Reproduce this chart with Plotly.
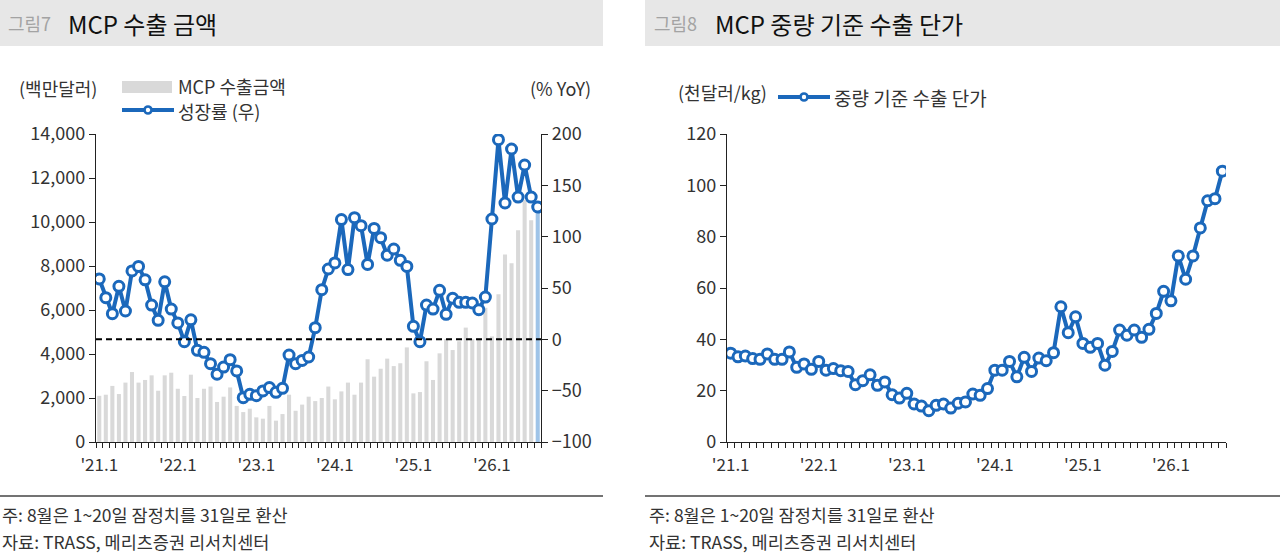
import plotly.graph_objects as go

# 월 라벨 ('21.1 ~ '26.8)
months = [f"'{y}.{m}" for y in range(21, 27) for m in range(1, 13)][:68]

# MCP 수출금액 (백만달러)
export_amt = [2100, 2150, 2550, 2180, 2700, 3180, 2700, 2820, 3030, 2330, 3030, 3150,
              2420, 2090, 3060, 2000, 2420, 2520, 1820, 2060, 2480, 1640, 1360, 1515,
              1120, 1060, 1640, 970, 1270, 2150, 1420, 1700, 2060, 1860, 2000, 2520,
              1940, 2300, 2700, 2150, 2700, 3760, 2970, 3330, 3790, 3450, 3580, 4300,
              2210, 2270, 3670, 2820, 4030, 4670, 4180, 4580, 5200, 4670, 4700, 6100,
              4800, 6720, 8520, 8130, 9620, 11000, 10080, 10700]

# 성장률 (% YoY, 우축)
growth = [58.8, 40.6, 25.0, 51.6, 27.6, 66.6, 71.0, 58.0, 33.4, 18.5, 56.0, 29.5,
          16.0, -2.3, 19.0, -10.7, -12.7, -23.7, -34.0, -27.0, -19.8, -30.8, -56.8, -53.6,
          -54.9, -50.3, -47.0, -51.6, -47.7, -15.3, -23.7, -20.5, -17.2, 11.4, 48.4, 68.5,
          74.4, 116.6, 67.9, 118.5, 110.7, 73.0, 108.0, 99.0, 82.0, 88.0, 77.0, 71.0,
          12.7, -2.3, 33.4, 29.5, 47.7, 24.4, 40.0, 36.0, 36.0, 35.4, 28.9, 41.2,
          117.2, 194.5, 132.8, 185.4, 138.6, 169.8, 138.6, 128.9]

# 중량 기준 수출 단가 (천달러/kg)
unit_price = [34.6, 33.2, 33.5, 32.5, 32.2, 34.3, 32.2, 32.2, 35.1, 29.1, 30.4, 28.3,
              31.4, 28.0, 28.6, 27.8, 27.5, 22.3, 23.9, 26.2, 22.1, 23.4, 18.4, 17.1,
              19.0, 14.8, 14.0, 12.2, 14.3, 14.8, 13.2, 15.1, 15.6, 18.7, 18.2, 20.8,
              28.0, 28.0, 31.4, 25.4, 33.0, 27.5, 32.7, 31.7, 34.8, 52.7, 42.6, 48.8,
              38.4, 36.9, 38.4, 29.9, 35.3, 43.6, 41.6, 43.6, 40.8, 43.9, 50.1, 58.7,
              55.0, 72.5, 63.4, 72.5, 83.4, 94.0, 94.8, 105.5]

x = list(range(len(months)))
tick_idx = [i for i, m in enumerate(months) if m.endswith('.1')]
tick_txt = [months[i] for i in tick_idx]

W, H = 1280, 555
FONT = "Noto Sans CJK KR"
BLUE = '#1b68bb'
GREY_BAR = '#d9d9d9'
HILITE = '#9fc4e8'
TXT = '#333333'


def px(v):
    return v / W


def py(v):
    return 1 - v / H


fig = go.Figure()

bar_colors = [GREY_BAR] * (len(x) - 1) + [HILITE]
fig.add_trace(go.Bar(x=x, y=export_amt, marker=dict(color=bar_colors, line_width=0),
                     width=0.62, name='MCP 수출금액', showlegend=False,
                     xaxis='x', yaxis='y'))

line_style = dict(color=BLUE, width=4)
marker_style = dict(symbol='circle', size=10, color='white', line=dict(color=BLUE, width=3))

fig.add_trace(go.Scatter(x=x, y=growth, mode='lines+markers', line=line_style,
                         marker=marker_style, name='성장률 (우)', showlegend=False,
                         xaxis='x', yaxis='y2'))

fig.add_trace(go.Scatter(x=x, y=unit_price, mode='lines+markers', line=line_style,
                         marker=marker_style, name='중량 기준 수출 단가', showlegend=False,
                         xaxis='x2', yaxis='y3'))

xfont = dict(family=FONT, size=17, color=TXT)
yfont = dict(family=FONT, size=18, color=TXT)
minor = dict(tickmode='linear', tick0=-0.5, dtick=1, ticks='outside', ticklen=5,
             tickcolor='#222', tickwidth=1)
xcommon = dict(range=[-0.5, len(x) - 0.5], tickmode='array', tickvals=tick_idx,
               ticktext=tick_txt, ticks='', showgrid=False, zeroline=False,
               showline=True, linecolor='#222', linewidth=1.2, tickfont=xfont,
               minor=minor, fixedrange=True, automargin=False, ticklabelstandoff=7)
ycommon = dict(showgrid=False, zeroline=False, showline=True, linecolor='#222',
               linewidth=1.2, ticks='outside', ticklen=6, tickcolor='#222',
               tickfont=yfont, fixedrange=True, automargin=False)

ydom = [py(442), py(134)]

fig.update_layout(
    width=W, height=H, margin=dict(l=0, r=0, t=0, b=0, pad=0), autosize=False,
    paper_bgcolor='white', plot_bgcolor='white',
    font=dict(family=FONT, color=TXT),
    showlegend=False,
    xaxis=dict(domain=[px(96), px(541)], anchor='y', **xcommon),
    yaxis=dict(domain=ydom, anchor='x', range=[0, 14000], tickvals=list(range(0, 14001, 2000)),
               tickformat=',d', **ycommon),
    yaxis2=dict(overlaying='y', side='right', anchor='x', range=[-100, 200],
                tickvals=list(range(-100, 201, 50)), **ycommon),
    xaxis2=dict(domain=[px(727), px(1226)], anchor='y3', **xcommon),
    yaxis3=dict(domain=ydom, anchor='x2', range=[0, 120], tickvals=list(range(0, 121, 20)),
                **ycommon),
)

# 0% 기준선 (우축)
fig.add_shape(type='line', xref='x domain', yref='y2', x0=0, x1=1, y0=0, y1=0,
              line=dict(color='black', width=2, dash='6px,4px'))

shapes = []
# 상단 회색 제목 띠
shapes.append(dict(type='rect', xref='paper', yref='paper', x0=0, x1=px(603),
                   y0=py(46), y1=1, fillcolor='#e7e7e7', line_width=0, layer='below'))
shapes.append(dict(type='rect', xref='paper', yref='paper', x0=px(645), x1=1,
                   y0=py(46), y1=1, fillcolor='#e7e7e7', line_width=0, layer='below'))
# 하단 구분선
shapes.append(dict(type='line', xref='paper', yref='paper', x0=0, x1=px(603),
                   y0=py(496), y1=py(496), line=dict(color='#444', width=1.3)))
shapes.append(dict(type='line', xref='paper', yref='paper', x0=px(645), x1=1,
                   y0=py(496), y1=py(496), line=dict(color='#444', width=1.3)))
# 범례 (좌)
shapes.append(dict(type='rect', xref='paper', yref='paper', x0=px(122), x1=px(172),
                   y0=py(93), y1=py(81), fillcolor=GREY_BAR, line_width=0))
for (x0, x1, yy) in [(122, 174, 110), (778, 830, 97)]:
    shapes.append(dict(type='line', xref='paper', yref='paper', x0=px(x0), x1=px(x1),
                       y0=py(yy), y1=py(yy), line=dict(color=BLUE, width=4)))
    cx = (x0 + x1) / 2
    shapes.append(dict(type='circle', xref='paper', yref='paper', x0=px(cx - 3.5),
                       x1=px(cx + 3.5), y0=py(yy + 3.5), y1=py(yy - 3.5),
                       fillcolor='white', line=dict(color=BLUE, width=2.6)))
for s in shapes:
    fig.add_shape(**s)


def label(text, xp, yp, size=18, color=TXT, anchor='left'):
    fig.add_annotation(text=text, xref='paper', yref='paper', x=px(xp), y=py(yp),
                       xanchor=anchor, yanchor='middle', showarrow=False,
                       font=dict(family=FONT, size=size, color=color))


# 제목
label('그림7', 6, 23, size=18, color='#a3a3a3')
label('MCP 수출 금액', 66, 23, size=24, color='#111')
label('그림8', 652, 23, size=18, color='#a3a3a3')
label('MCP 중량 기준 수출 단가', 713, 23, size=24, color='#111')

# 단위/범례 텍스트
label('(백만달러)', 17, 88)
label('MCP 수출금액', 176, 86)
label('성장률 (우)', 176, 111)
label('(% YoY)', 593, 88, anchor='right')
label('(천달러/kg)', 676, 92)
label('중량 기준 수출 단가', 832, 97, size=19)

# 주석
label('주: 8월은 1~20일 잠정치를 31일로 환산', 0, 514, size=17.5)
label('자료: TRASS, 메리츠증권 리서치센터', 0, 541, size=17.5)
label('주: 8월은 1~20일 잠정치를 31일로 환산', 647, 514, size=17.5)
label('자료: TRASS, 메리츠증권 리서치센터', 647, 541, size=17.5)

fig.write_html("out.html", config={'displayModeBar': False},
               post_script="document.body.style.margin='0';")
